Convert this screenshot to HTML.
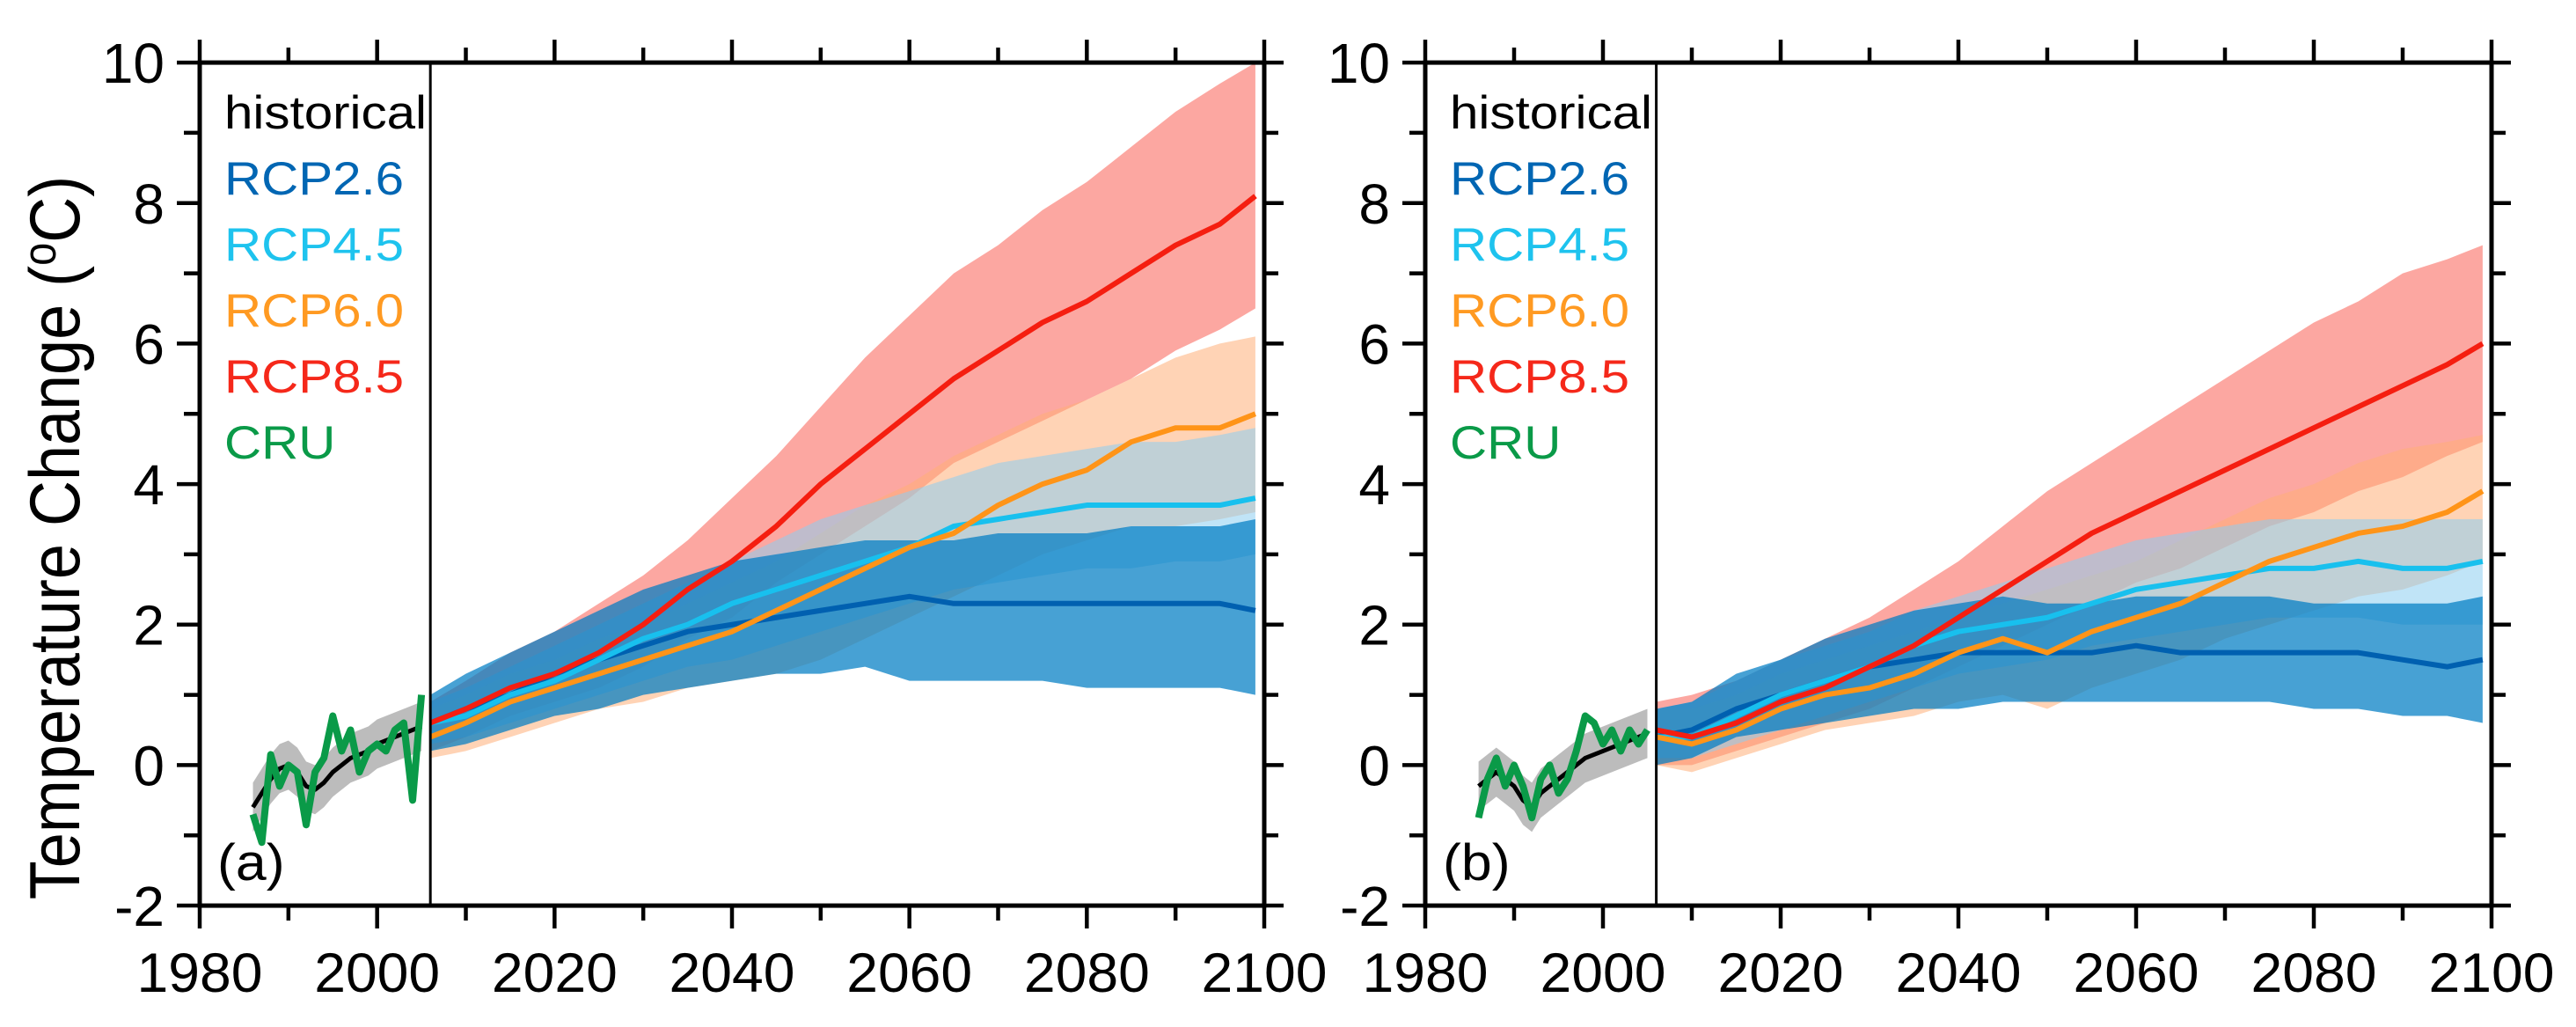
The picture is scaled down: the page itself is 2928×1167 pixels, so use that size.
<!DOCTYPE html>
<html><head><meta charset="utf-8"><style>
html,body{margin:0;padding:0;background:#fff;overflow:hidden;}
svg{display:block;font-family:"Liberation Sans",Arial,sans-serif;}
</style></head><body>
<svg id="chart" width="2928" height="1167" viewBox="0 0 2928 1167" xmlns="http://www.w3.org/2000/svg">
<text transform="translate(90,611) rotate(-90) scale(1,1.12)" text-anchor="middle" font-size="72">Temperature Change (<tspan font-size="47" dy="-24">o</tspan><tspan dy="24">C)</tspan></text>
</svg>
<script>
const histYears=[1986,1987,1988,1989,1990,1991,1992,1993,1994,1995,1996,1997,1998,1999,2000,2001,2002,2003,2004,2005];
const projYears=[2006,2010,2015,2020,2025,2030,2035,2040,2045,2050,2055,2060,2065,2070,2075,2080,2085,2090,2095,2099];
const yTicks=[-2,0,2,4,6,8,10];
const xTicks=[1980,2000,2020,2040,2060,2080,2100];
const legendLabels=["historical","RCP2.6","RCP4.5","RCP6.0","RCP8.5","CRU"];

// Panel (a)
const a_hist=[-0.6,-0.4,-0.2,-0.05,0,-0.1,-0.3,-0.35,-0.25,-0.1,0.0,0.1,0.15,0.2,0.3,0.35,0.4,0.45,0.5,0.55];
const a_cru=[-0.7,-1.1,0.15,-0.3,0.0,-0.1,-0.85,-0.1,0.1,0.7,0.2,0.5,-0.1,0.2,0.3,0.2,0.5,0.6,-0.5,1.0];
const a_r85=[0.6,0.8,1.1,1.3,1.6,2.0,2.5,2.9,3.4,4.0,4.5,5.0,5.5,5.9,6.3,6.6,7.0,7.4,7.7,8.1];
const a_r85hi=[0.9,1.2,1.6,1.9,2.3,2.7,3.2,3.8,4.4,5.1,5.8,6.4,7.0,7.4,7.9,8.3,8.8,9.3,9.7,10.0];
const a_r85lo=[0.2,0.4,0.7,0.9,1.1,1.4,1.8,2.1,2.6,3.0,3.4,3.8,4.3,4.6,4.9,5.2,5.5,5.9,6.2,6.5];
const a_r60=[0.4,0.6,0.9,1.1,1.3,1.5,1.7,1.9,2.2,2.5,2.8,3.1,3.3,3.7,4.0,4.2,4.6,4.8,4.8,5.0];
const a_r60hi=[0.8,1.0,1.3,1.5,1.8,2.0,2.3,2.6,2.9,3.3,3.7,4.0,4.4,4.7,5.0,5.2,5.5,5.8,6.0,6.1];
const a_r60lo=[0.1,0.2,0.4,0.6,0.8,0.9,1.1,1.2,1.3,1.5,1.8,2.1,2.4,2.7,3.0,3.2,3.4,3.4,3.5,3.6];
const a_r45=[0.6,0.7,1.0,1.2,1.5,1.8,2.0,2.3,2.5,2.7,2.9,3.1,3.4,3.5,3.6,3.7,3.7,3.7,3.7,3.8];
const a_r45hi=[0.9,1.1,1.4,1.7,2.0,2.3,2.6,2.9,3.2,3.5,3.7,3.9,4.1,4.3,4.4,4.5,4.6,4.6,4.7,4.8];
const a_r45lo=[0.3,0.4,0.6,0.8,1.0,1.2,1.4,1.5,1.7,1.9,2.1,2.3,2.5,2.6,2.7,2.8,2.8,2.9,2.9,3.0];
const a_r26=[0.6,0.8,1.0,1.3,1.5,1.7,1.9,2.0,2.1,2.2,2.3,2.4,2.3,2.3,2.3,2.3,2.3,2.3,2.3,2.2];
const a_r26hi=[1.0,1.3,1.6,1.9,2.2,2.5,2.7,2.9,3.0,3.1,3.2,3.2,3.2,3.3,3.3,3.3,3.4,3.4,3.4,3.5];
const a_r26lo=[0.2,0.3,0.5,0.7,0.8,1.0,1.1,1.2,1.3,1.3,1.4,1.2,1.2,1.2,1.2,1.1,1.1,1.1,1.1,1.0];

// Panel (b)
const b_hist=[-0.3,-0.2,-0.1,-0.2,-0.3,-0.5,-0.6,-0.4,-0.3,-0.2,-0.1,0,0.1,0.15,0.2,0.25,0.3,0.35,0.4,0.45];
const b_cru=[-0.75,-0.2,0.1,-0.3,0.0,-0.3,-0.75,-0.2,0.0,-0.4,-0.2,0.2,0.7,0.6,0.3,0.5,0.2,0.5,0.3,0.5];
const b_r85=[0.5,0.4,0.6,0.9,1.1,1.4,1.7,2.1,2.5,2.9,3.3,3.6,3.9,4.2,4.5,4.8,5.1,5.4,5.7,6.0];
const b_r85hi=[0.9,1.0,1.2,1.5,1.8,2.1,2.5,2.9,3.4,3.9,4.3,4.7,5.1,5.5,5.9,6.3,6.6,7.0,7.2,7.4];
const b_r85lo=[0.0,0.0,0.2,0.4,0.6,0.8,1.1,1.4,1.7,2.0,2.3,2.6,2.8,3.1,3.4,3.6,3.9,4.1,4.4,4.6];
const b_r60=[0.4,0.3,0.5,0.8,1.0,1.1,1.3,1.6,1.8,1.6,1.9,2.1,2.3,2.6,2.9,3.1,3.3,3.4,3.6,3.9];
const b_r60hi=[0.8,0.8,1.0,1.3,1.5,1.7,1.9,2.1,2.3,2.5,2.7,2.9,3.2,3.5,3.8,4.0,4.3,4.5,4.6,4.7];
const b_r60lo=[0.0,-0.1,0.1,0.3,0.5,0.6,0.7,0.9,1.0,0.8,1.1,1.3,1.5,1.8,2.0,2.2,2.4,2.5,2.7,2.9];
const b_r45=[0.4,0.4,0.7,1.0,1.2,1.4,1.7,1.9,2.0,2.1,2.3,2.5,2.6,2.7,2.8,2.8,2.9,2.8,2.8,2.9];
const b_r45hi=[0.8,0.9,1.2,1.5,1.7,1.9,2.2,2.4,2.6,2.8,3.0,3.2,3.3,3.4,3.5,3.5,3.5,3.5,3.5,3.5];
const b_r45lo=[0.1,0.1,0.3,0.5,0.7,0.9,1.1,1.3,1.4,1.5,1.7,1.8,1.9,2.0,2.1,2.1,2.1,2.0,2.0,2.0];
const b_r26=[0.4,0.5,0.8,1.0,1.2,1.4,1.5,1.6,1.6,1.6,1.6,1.7,1.6,1.6,1.6,1.6,1.6,1.5,1.4,1.5];
const b_r26hi=[0.8,0.9,1.3,1.5,1.8,2.0,2.2,2.3,2.4,2.3,2.3,2.4,2.4,2.4,2.4,2.3,2.3,2.3,2.3,2.4];
const b_r26lo=[0.0,0.1,0.4,0.5,0.6,0.7,0.8,0.8,0.9,0.9,0.9,0.9,0.9,0.9,0.9,0.8,0.8,0.7,0.7,0.6];

const NS="http://www.w3.org/2000/svg";
const svg=document.getElementById('chart');
function mk(tag,attrs,parent){const e=document.createElementNS(NS,tag);for(const k in attrs)e.setAttribute(k,attrs[k]);(parent||svg).appendChild(e);return e;}
function stext(parent,x,y,sx,size,anchor,fill,str){
  const t=mk('text',{transform:'translate('+x+','+y+') scale('+sx+',1)',x:0,y:0,'font-size':size,'text-anchor':anchor,fill:fill},parent);
  t.textContent=str;
  return t;
}

function drawPanel(P){
  const x0=P.x0, pxYr=(P.x1-P.x0)/120, yZero=869.4, pxUnit=79.83;
  const X=yr=>x0+(yr-1980)*pxYr;
  const Y=v=>yZero-v*pxUnit;
  const g=mk('g',{});
  
  
  const right=X(2100), top=Y(10), bot=Y(-2);
  const clipId='clip'+P.id;
  const cp=mk('clipPath',{id:clipId},g);
  mk('rect',{x:x0,y:top,width:right-x0,height:bot-top},cp);
  const plot=mk('g',{'clip-path':'url(#'+clipId+')'},g);
  function band(years,lo,hi,fill,name){
    let d='M'+years.map((yr,i)=>X(yr)+','+Y(hi[i])).join(' L');
    for(let i=years.length-1;i>=0;i--) d+=' L'+X(years[i])+','+Y(lo[i]);
    const p=mk('path',{d:d+'Z',fill:fill,stroke:'none'},plot);
    
    
  }
  function line(years,vals,color,name,w){
    const p=mk('polyline',{points:years.map((yr,i)=>X(yr)+','+Y(vals[i])).join(' '),fill:'none',stroke:color,'stroke-width':w||6,'stroke-linejoin':'round'},plot);
    
    
  }
  const hlo=P.hist.map(v=>v-0.35), hhi=P.hist.map(v=>v+0.35);
  band(histYears,hlo,hhi,'rgba(160,160,160,0.7)','historical-band');
  band(projYears,P.r85lo,P.r85hi,'rgba(250,120,110,0.65)','rcp85-band');
  band(projYears,P.r60lo,P.r60hi,'rgba(255,175,120,0.55)','rcp60-band');
  band(projYears,P.r45lo,P.r45hi,'rgba(140,205,240,0.55)','rcp45-band');
  band(projYears,P.r26lo,P.r26hi,'rgba(0,125,195,0.72)','rcp26-band');
  line(histYears,P.hist,'#000','historical-line',5);
  line(histYears,P.cru,'#0a9a48','cru-line',8);
  line(projYears,P.r26,'#0060b0','rcp26-line');
  line(projYears,P.r45,'#18c0ee','rcp45-line');
  line(projYears,P.r60,'#ff9418','rcp60-line');
  line(projYears,P.r85,'#f51e10','rcp85-line');
  const dv=mk('line',{x1:X(2006),x2:X(2006),y1:top,y2:bot,stroke:'#000','stroke-width':3},g);
  
  
  const fr=mk('rect',{x:x0,y:top,width:right-x0,height:bot-top,fill:'none',stroke:'#000','stroke-width':5},g);
  
  
  for(let yr=1980;yr<=2100;yr+=10){
    const maj=(yr%20===0), L=maj?26:17;
    mk('line',{x1:X(yr),x2:X(yr),y1:top,y2:top-L,stroke:'#000','stroke-width':4.5},g);
    mk('line',{x1:X(yr),x2:X(yr),y1:bot,y2:bot+L,stroke:'#000','stroke-width':4.5},g);
  }
  xTicks.forEach(t=>{
    const tx=stext(g,X(t),1127,1.02,63,'middle','#000',t);
    
    
  });
  for(let v=-2;v<=10;v++){
    const maj=(v%2===0), L=maj?26:18;
    mk('line',{x1:x0,x2:x0-L,y1:Y(v),y2:Y(v),stroke:'#000','stroke-width':4.5},g);
    mk('line',{x1:right,x2:right+(maj?22:16),y1:Y(v),y2:Y(v),stroke:'#000','stroke-width':4.5},g);
  }
  yTicks.forEach(t=>{
    const tx=stext(g,x0-40,Y(t)+23,1.0,64,'end','#000',t);
    
    
  });
  const colors=['#000','#0066b3','#1ec3ee','#ff9a22','#f5281a','#0a9a48'];
  legendLabels.forEach((lab,i)=>{
    const tx=stext(g,x0+28,146+i*75,1.1,53,'start',colors[i],lab);
    
    
  });
  const pl=stext(g,x0+20,1000,1.08,58,'start','#000',P.label);
  
  
}
drawPanel({id:'a',name:'panel-a',x0:227,x1:1437,label:'(a)',hist:a_hist,cru:a_cru,r85:a_r85,r85hi:a_r85hi,r85lo:a_r85lo,r60:a_r60,r60hi:a_r60hi,r60lo:a_r60lo,r45:a_r45,r45hi:a_r45hi,r45lo:a_r45lo,r26:a_r26,r26hi:a_r26hi,r26lo:a_r26lo});
drawPanel({id:'b',name:'panel-b',x0:1620,x1:2832,label:'(b)',hist:b_hist,cru:b_cru,r85:b_r85,r85hi:b_r85hi,r85lo:b_r85lo,r60:b_r60,r60hi:b_r60hi,r60lo:b_r60lo,r45:b_r45,r45hi:b_r45hi,r45lo:b_r45lo,r26:b_r26,r26hi:b_r26hi,r26lo:b_r26lo});
</script>
</body></html>
